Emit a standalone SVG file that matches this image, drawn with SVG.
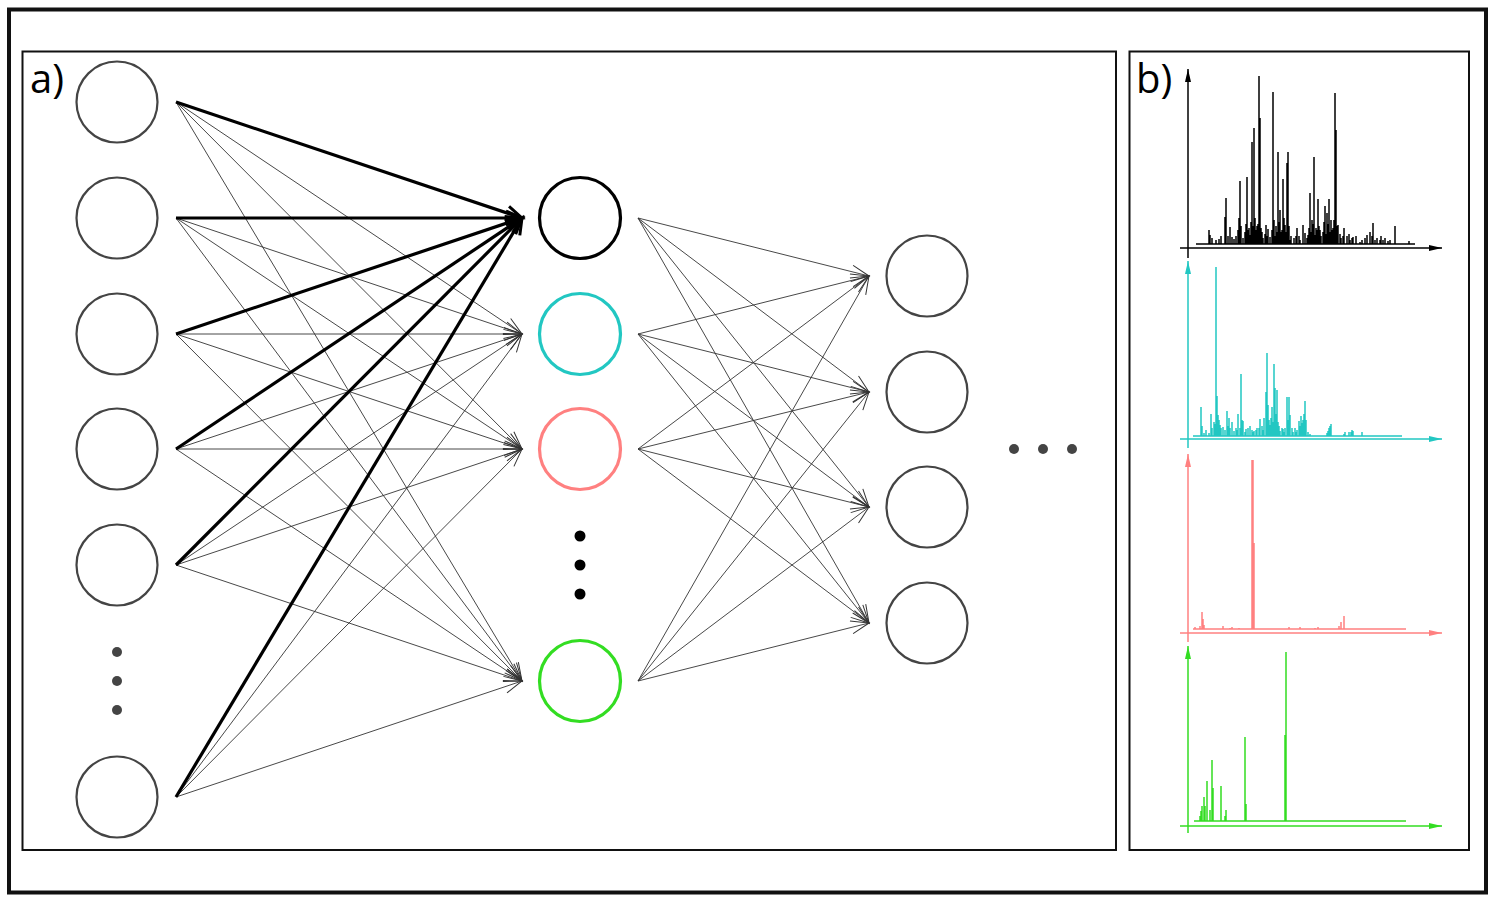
<svg xmlns="http://www.w3.org/2000/svg" width="1500" height="900" viewBox="0 0 1500 900">
<style>
.frame{fill:none;stroke:#111;}
.node{fill:#fff;stroke:#444;stroke-width:2.2;}
.thin{stroke:#333;stroke-width:0.9;fill:none;marker-end:url(#ah);}
.thick{stroke:#000;stroke-width:3.2;fill:none;marker-end:url(#ahb);}
.lbl{font-family:"Open Sans","Noto Sans","DejaVu Sans",sans-serif;font-size:40px;fill:#000;}
.spk{fill:none;stroke-width:1.5;}
.ax{fill:none;stroke-width:1.5;}
</style>
<defs>
<marker id="ah" markerUnits="userSpaceOnUse" orient="auto" refX="0" refY="0" markerWidth="20" markerHeight="20" overflow="visible">
<path d="M-18,-6.5 L0,0 L-18,6.5" fill="none" stroke="#333" stroke-width="1"/>
</marker>
<marker id="ahb" markerUnits="userSpaceOnUse" orient="auto" refX="0" refY="0" markerWidth="20" markerHeight="20" overflow="visible">
<path d="M-16,-7 L0,0 L-16,7" fill="none" stroke="#000" stroke-width="3"/>
</marker>
<marker id="axk" markerUnits="userSpaceOnUse" orient="auto" refX="0" refY="0" markerWidth="20" markerHeight="20" overflow="visible">
<path d="M-13,-3 L0,0 L-13,3 Z" fill="#000"/>
</marker>
<marker id="axc" markerUnits="userSpaceOnUse" orient="auto" refX="0" refY="0" markerWidth="20" markerHeight="20" overflow="visible">
<path d="M-13,-3 L0,0 L-13,3 Z" fill="#22c7c2"/>
</marker>
<marker id="axr" markerUnits="userSpaceOnUse" orient="auto" refX="0" refY="0" markerWidth="20" markerHeight="20" overflow="visible">
<path d="M-13,-3 L0,0 L-13,3 Z" fill="#ff8080"/>
</marker>
<marker id="axg" markerUnits="userSpaceOnUse" orient="auto" refX="0" refY="0" markerWidth="20" markerHeight="20" overflow="visible">
<path d="M-13,-3 L0,0 L-13,3 Z" fill="#33dd22"/>
</marker>
</defs>
<rect width="1500" height="900" fill="#fff"/>
<rect class="frame" x="9" y="9.5" width="1477" height="883" stroke-width="4"/>
<rect class="frame" x="22.5" y="51.5" width="1093.5" height="798.5" stroke-width="2"/>
<rect class="frame" x="1129.5" y="51.5" width="339.5" height="798.5" stroke-width="2"/>
<text class="lbl" x="30" y="93">a)</text>
<text class="lbl" x="1136" y="93">b)</text>

<g id="connectors">
<g id="layer1-to-layer2">
<path class="thin" d="M176,102 L522,334"/><path class="thin" d="M176,102 L522,449"/><path class="thin" d="M176,102 L522,681"/>
<path class="thin" d="M176,218 L522,334"/><path class="thin" d="M176,218 L522,449"/><path class="thin" d="M176,218 L522,681"/>
<path class="thin" d="M176,334 L522,334"/><path class="thin" d="M176,334 L522,449"/><path class="thin" d="M176,334 L522,681"/>
<path class="thin" d="M176,449 L522,334"/><path class="thin" d="M176,449 L522,449"/><path class="thin" d="M176,449 L522,681"/>
<path class="thin" d="M176,565 L522,334"/><path class="thin" d="M176,565 L522,449"/><path class="thin" d="M176,565 L522,681"/>
<path class="thin" d="M176,797 L522,334"/><path class="thin" d="M176,797 L522,449"/><path class="thin" d="M176,797 L522,681"/>
<path class="thick" d="M176,102 L522,218"/><path class="thick" d="M176,218 L522,218"/><path class="thick" d="M176,334 L522,218"/>
<path class="thick" d="M176,449 L522,218"/><path class="thick" d="M176,565 L522,218"/><path class="thick" d="M176,797 L522,218"/>
</g>
<g id="layer2-to-layer3">
<path class="thin" d="M638,218 L869,276"/><path class="thin" d="M638,218 L869,392"/><path class="thin" d="M638,218 L869,507"/><path class="thin" d="M638,218 L869,623"/>
<path class="thin" d="M638,334 L869,276"/><path class="thin" d="M638,334 L869,392"/><path class="thin" d="M638,334 L869,507"/><path class="thin" d="M638,334 L869,623"/>
<path class="thin" d="M638,449 L869,276"/><path class="thin" d="M638,449 L869,392"/><path class="thin" d="M638,449 L869,507"/><path class="thin" d="M638,449 L869,623"/>
<path class="thin" d="M638,681 L869,276"/><path class="thin" d="M638,681 L869,392"/><path class="thin" d="M638,681 L869,507"/><path class="thin" d="M638,681 L869,623"/>
</g>
</g>

<g id="input-layer">
<g id="in1"><circle class="node" cx="117" cy="102" r="40.5"/></g>
<g id="in2"><circle class="node" cx="117" cy="218" r="40.5"/></g>
<g id="in3"><circle class="node" cx="117" cy="334" r="40.5"/></g>
<g id="in4"><circle class="node" cx="117" cy="449" r="40.5"/></g>
<g id="in5"><circle class="node" cx="117" cy="565" r="40.5"/></g>
<g id="in-dots" fill="#444"><circle cx="117" cy="652" r="5"/><circle cx="117" cy="681" r="5"/><circle cx="117" cy="710" r="5"/></g>
<g id="in6"><circle class="node" cx="117" cy="797" r="40.5"/></g>
</g>

<g id="hidden-layer">
<g id="h1"><circle class="node" cx="580" cy="218" r="40.5" style="stroke:#000;stroke-width:3.2"/></g>
<g id="h2"><circle class="node" cx="580" cy="334" r="40.5" style="stroke:#22c7c2;stroke-width:3.2"/></g>
<g id="h3"><circle class="node" cx="580" cy="449" r="40.5" style="stroke:#ff8080;stroke-width:3.2"/></g>
<g id="h-dots" fill="#000"><circle cx="580" cy="536" r="5.5"/><circle cx="580" cy="565" r="5.5"/><circle cx="580" cy="594" r="5.5"/></g>
<g id="h4"><circle class="node" cx="580" cy="681" r="40.5" style="stroke:#33dd22;stroke-width:3.2"/></g>
</g>

<g id="layer3">
<g id="o1"><circle class="node" cx="927" cy="276" r="40.5"/></g>
<g id="o2"><circle class="node" cx="927" cy="392" r="40.5"/></g>
<g id="o3"><circle class="node" cx="927" cy="507" r="40.5"/></g>
<g id="o4"><circle class="node" cx="927" cy="623" r="40.5"/></g>
</g>
<g id="more-layers" fill="#444"><circle cx="1014" cy="449" r="5"/><circle cx="1043" cy="449" r="5"/><circle cx="1072" cy="449" r="5"/></g>

<g id="spectrum-black">
<path class="ax" stroke="#000" d="M1188,258 V69" marker-end="url(#axk)"/>
<path class="ax" stroke="#000" d="M1180,248 H1442" marker-end="url(#axk)"/>
<path class="spk" stroke="#000" stroke-width="1.9" d="M1196,244 H1415
M1209,244V230 M1210,244V235 M1216,244V240 M1221,244V236 M1226,244V198 M1225,244V217 M1230,244V227 M1236,244V236 M1240,244V181 M1239,244V218 M1243,244V238 M1247,244V177 M1250,244V235 M1252,244V142 M1254,244V128 M1256,244V230 M1259,244V76 M1260,244V118 M1263,244V238 M1266,244V225 M1268,244V229 M1273,244V92 M1275,244V236 M1278,244V152 M1280,244V210 M1283,244V179 M1285,244V225 M1287,244V163 M1288,244V152 M1291,244V236 M1294,244V238 M1297,244V228 M1300,244V240 M1303,244V225 M1308,244V235 M1310,244V193 M1312,244V220 M1314,244V157 M1316,244V228 M1318,244V199 M1321,244V236 M1325,244V206 M1327,244V213 M1329,244V199 M1331,244V220 M1335,244V93 M1336,244V130 M1338,244V225 M1341,244V238 M1344,244V228 M1347,244V236 M1350,244V240 M1353,244V237 M1356,244V236 M1360,244V242 M1367,244V235 M1370,244V232 M1373,244V223 M1377,244V238 M1381,244V236 M1385,244V238 M1388,244V241 M1395,244V226 M1409,244V241
M1212,244V238 M1219,244V239 M1228,244V236 M1232,244V237 M1234,244V239 M1245,244V232 M1249,244V228 M1257,244V226 M1262,244V232 M1265,244V234 M1270,244V237 M1277,244V232 M1282,244V230 M1286,244V232 M1290,244V240 M1296,244V236 M1299,244V236 M1305,244V233 M1307,244V238 M1315,244V235 M1320,244V230 M1323,244V232 M1326,244V234 M1330,244V232 M1333,244V228 M1340,244V234 M1343,244V236 M1349,244V234 M1352,244V238 M1362,244V240 M1365,244V238 M1372,244V236 M1375,244V240 M1380,244V240 M1383,244V240 M1390,244V240
M1238,244V230 M1241,244V226 M1246,244V224 M1248,244V230 M1251,244V222 M1253,244V226 M1255,244V218 M1258,244V224 M1261,244V228 M1267,244V236 M1272,244V230 M1274,244V220 M1276,244V226 M1279,244V222 M1281,244V232 M1284,244V218 M1289,244V226 M1309,244V228 M1311,244V232 M1313,244V224 M1317,244V230 M1319,244V226 M1324,244V222 M1328,244V224 M1332,244V230 M1334,244V220 M1337,244V226"/>
</g>

<g id="spectrum-cyan">
<path class="ax" stroke="#22c7c2" d="M1188,448 V261" marker-end="url(#axc)"/>
<path class="ax" stroke="#22c7c2" d="M1180,439 H1442" marker-end="url(#axc)"/>
<path class="spk" stroke="#22c7c2" d="M1193,436 H1402
M1201,436V407 M1202,436V426 M1206,436V430 M1209,436V433 M1211,436V414 M1214,436V422 M1216,436V267 M1217,436V396 M1218,436V415 M1219,436V420 M1221,436V428 M1223,436V427 M1227,436V411 M1229,436V418 M1230,436V428 M1232,436V422 M1237,436V430 M1238,436V414 M1241,436V374 M1242,436V420 M1243,436V421 M1246,436V429 M1250,436V426 M1252,436V430 M1254,436V431 M1257,436V428 M1260,436V419 M1264,436V418 M1266,436V392 M1267,436V353 M1268,436V405 M1270,436V425 M1272,436V407 M1274,436V364 M1275,436V388 M1277,436V390 M1278,436V422 M1280,436V431 M1283,436V429 M1285,436V428 M1287,436V397 M1289,436V397 M1290,436V415 M1293,436V432 M1295,436V428 M1297,436V430 M1299,436V421 M1301,436V416 M1302,436V423 M1305,436V401 M1306,436V420 M1308,436V432 M1310,436V434 M1328,436V431 M1330,436V426 M1331,436V424 M1345,436V432 M1349,436V432 M1352,436V430 M1353,436V431 M1362,436V432
M1204,436V433 M1212,436V428 M1215,436V424 M1220,436V425 M1225,436V430 M1228,436V426 M1234,436V431 M1236,436V428 M1240,436V428 M1245,436V432 M1248,436V428 M1253,436V432 M1256,436V430 M1259,436V428 M1262,436V426 M1263,436V430 M1269,436V420 M1271,436V418 M1273,436V422 M1276,436V414 M1279,436V426 M1282,436V428 M1284,436V432 M1288,436V420 M1292,436V428 M1296,436V432 M1300,436V426 M1303,436V420 M1304,436V414 M1327,436V433 M1329,436V428 M1344,436V434 M1351,436V432"/>
</g>

<g id="spectrum-red">
<path class="ax" stroke="#ff8080" d="M1188,642 V454" marker-end="url(#axr)"/>
<path class="ax" stroke="#ff8080" d="M1180,633 H1442" marker-end="url(#axr)"/>
<path class="spk" stroke="#ff8080" d="M1193,629 H1406
M1195,629V627 M1200,629V626 M1202,629V612 M1203,629V619 M1204,629V625 M1223,629V626 M1230,629V628 M1232,629V627 M1239,629V628 M1252,629V460 M1253,629V460 M1254,629V543 M1289,629V627 M1300,629V627 M1315,629V628 M1318,629V627 M1339,629V626 M1341,629V622 M1344,629V616"/>
</g>

<g id="spectrum-green">
<path class="ax" stroke="#33dd22" d="M1188,833 V646" marker-end="url(#axg)"/>
<path class="ax" stroke="#33dd22" d="M1180,826 H1442" marker-end="url(#axg)"/>
<path class="spk" stroke="#33dd22" d="M1194,821 H1406
M1200,821V816 M1201,821V811 M1202,821V806 M1204,821V797 M1205,821V806 M1207,821V781 M1210,821V810 M1212,821V760 M1213,821V788 M1221,821V786 M1225,821V816 M1226,821V810 M1245,821V737 M1246,821V804 M1285,821V735 M1286,821V652"/>
</g>
</svg>
